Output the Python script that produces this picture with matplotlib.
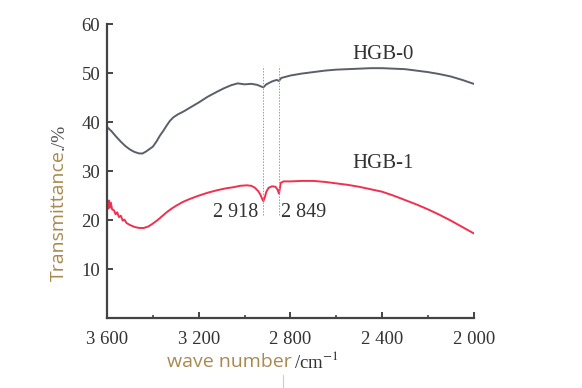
import matplotlib
matplotlib.use("Agg")
import matplotlib.pyplot as plt
from matplotlib.lines import Line2D
from matplotlib.ticker import FixedLocator

plt.rcParams['mathtext.fontset'] = 'stix'

# HGB-0 spectrum
wn0 = [3600, 3580, 3560, 3540, 3520, 3500, 3480, 3460, 3445, 3430, 3415, 3400,
       3385, 3370, 3355, 3340, 3325, 3310, 3290, 3265, 3240, 3200, 3160, 3120,
       3090, 3060, 3030, 3000, 2970, 2945, 2930, 2918, 2905, 2880, 2860, 2850,
       2840, 2800, 2750, 2700, 2650, 2600, 2550, 2500, 2450, 2400, 2350, 2300,
       2250, 2200, 2150, 2100, 2050, 2000]
t0 = [39.0, 38.1, 37.0, 36.0, 35.1, 34.4, 33.9, 33.6, 33.6, 34.0, 34.5, 35.0,
      36.0, 37.2, 38.2, 39.3, 40.3, 41.0, 41.6, 42.2, 42.9, 44.0, 45.2, 46.2,
      46.9, 47.5, 47.9, 47.7, 47.8, 47.6, 47.3, 47.1, 47.7, 48.3, 48.6, 48.4,
      49.0, 49.5, 49.9, 50.2, 50.5, 50.7, 50.8, 50.9, 51.0, 51.0, 50.9, 50.8,
      50.5, 50.2, 49.8, 49.3, 48.6, 47.8]

# HGB-1 spectrum
wn1 = [3600, 3596, 3592, 3588, 3584, 3578, 3570, 3563, 3556, 3548, 3540, 3532,
       3524, 3515, 3500, 3480, 3460, 3440, 3420, 3400, 3380, 3360, 3340, 3320,
       3300, 3270, 3240, 3200, 3160, 3120, 3080, 3050, 3020, 2990, 2970, 2955,
       2940, 2930, 2922, 2918, 2912, 2905, 2895, 2880, 2865, 2856, 2850, 2846,
       2842, 2830, 2800, 2750, 2700, 2650, 2600, 2550, 2500, 2450, 2400, 2350,
       2300, 2250, 2200, 2150, 2100, 2050, 2000]
t1 = [23.0, 22.3, 24.0, 22.5, 23.6, 22.2, 22.0, 21.2, 21.6, 20.6, 20.9, 19.9,
      20.1, 19.4, 19.0, 18.6, 18.4, 18.4, 18.7, 19.3, 20.0, 20.8, 21.6, 22.3,
      22.9, 23.7, 24.3, 25.0, 25.6, 26.1, 26.5, 26.7, 27.0, 27.1, 27.0, 26.6,
      25.9, 25.1, 24.2, 23.9, 24.6, 25.8, 26.6, 26.9, 26.8, 26.2, 25.4, 26.5,
      27.6, 27.9, 27.9, 28.0, 28.0, 27.8, 27.5, 27.2, 26.8, 26.3, 25.8, 25.0,
      24.1, 23.2, 22.2, 21.1, 19.9, 18.6, 17.3]

peak_positions = [2918, 2849]
peak_labels = ["2 918", "2 849"]
xticks = [3600, 3200, 2800, 2400, 2000]
xtick_labels = ["3 600", "3 200", "2 800", "2 400", "2 000"]
yticks = [10, 20, 30, 40, 50, 60]

serif = ['Liberation Serif', 'DejaVu Serif']
sans = ['Open Sans', 'DejaVu Sans']
tan = '#a8894f'
dark = '#333333'

fig = plt.figure(figsize=(5.82, 3.88), dpi=100)
ax = fig.add_axes([0.184, 0.180, 0.630, 0.758])

ax.plot(wn0, t0, color='#5b5e6b', lw=1.4)
ax.plot(wn1, t1, color='#f0304f', lw=1.4)

for p in peak_positions:
    ax.plot([p, p], [21.0, 51.5], color='#9a9a9a', lw=0.7, ls=(0, (1.5, 1.5)))

ax.text(2942, 21.6, peak_labels[0], ha='right', va='center', family=serif,
        fontsize=14.5, color=dark)
ax.text(2841, 21.6, peak_labels[1], ha='left', va='center', family=serif,
        fontsize=14.5, color=dark)
ax.text(2397, 53.7, "HGB-0", ha='center', va='center', family=serif,
        fontsize=15, color=dark)
ax.text(2397, 31.6, "HGB-1", ha='center', va='center', family=serif,
        fontsize=15, color=dark)

ax.set_xlim(3600, 2000)
ax.set_ylim(0, 60)
ax.set_xticks(xticks)
ax.set_xticklabels(xtick_labels)
ax.xaxis.set_minor_locator(FixedLocator([3400, 3000, 2600, 2200]))
ax.set_yticks(yticks)

for s in ['top', 'right']:
    ax.spines[s].set_visible(False)
for s in ['left', 'bottom']:
    ax.spines[s].set_linewidth(1.6)
    ax.spines[s].set_color('#444444')

ax.tick_params(axis='both', which='major', direction='in', length=4,
               width=1.4, color='#444444', labelsize=13.5, labelcolor=dark)
ax.tick_params(axis='x', which='major', pad=9)
ax.tick_params(axis='y', which='major', pad=5)
ax.tick_params(axis='x', which='minor', direction='in', length=2.5, width=1.2,
               color='#444444')
for lbl in ax.get_xticklabels() + ax.get_yticklabels():
    lbl.set_family(serif)

# axis labels (two-colour)
fig.text(59 / 582, 1 - 150 / 388, "Transmittance", rotation=90, ha='center',
         va='top', family=sans, fontsize=14, color=tan)
fig.text(59 / 582, 1 - 150 / 388, "./%", rotation=90, ha='center',
         va='bottom', family=serif, fontsize=14, color='#555555')
fig.text(292 / 582, 1 - 362 / 388, "wave number", ha='right', va='center',
         family=sans, fontsize=14, color=tan)
fig.text(294 / 582, 1 - 361 / 388, r"/cm$^{-1}$", ha='left', va='center',
         family=serif, fontsize=13.5, color=dark)

fig.add_artist(Line2D([283 / 582, 283 / 582], [0, 13 / 388],
                      color='#cccccc', lw=0.8))

fig.savefig('out.png', dpi=100)
